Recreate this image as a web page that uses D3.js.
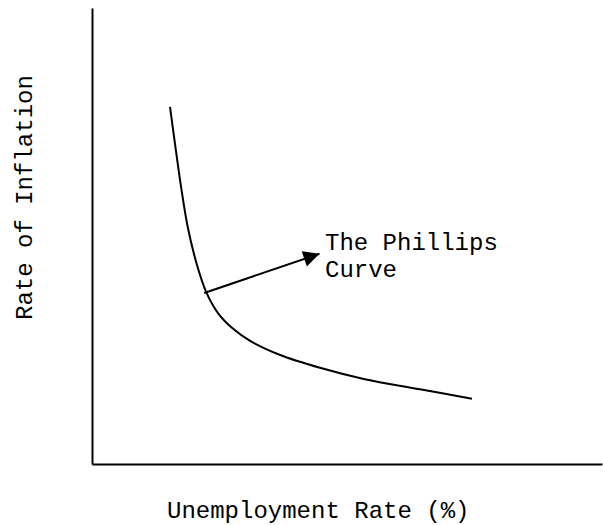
<!DOCTYPE html>
<html>
<head>
<meta charset="utf-8">
<script src="https://cdn.jsdelivr.net/npm/d3@7"></script>
<style>
  body { margin: 0; background: #fff; }
  text { font-family: "Liberation Mono", "Courier New", monospace; font-size: 24px; fill: #000; }
</style>
</head>
<body>
<div id="chart"></div>
<script>
// Phillips curve (units 0-100 on both axes)
var curveX = [15.3, 16.3, 17.5, 18.8, 20.6, 22.4, 24.7, 27.5, 31.0, 36.9, 44.7, 53.5, 64.3, 74.5];
var curveY = [78.3, 70.0, 60.5, 51.8, 43.6, 37.7, 33.1, 29.8, 27.0, 23.9, 21.1, 18.6, 16.4, 14.3];

// arrow from the curve to the label
var arrowX = [22.0, 44.6];
var arrowY = [37.5, 46.1];

var labelLines = ["The Phillips", "Curve"];
var xTitle = "Unemployment Rate (%)";
var yTitle = "Rate of Inflation";

var W = 603, H = 525;

var svg = d3.select("#chart").append("svg")
    .attr("width", W)
    .attr("height", H);

var x = d3.scaleLinear().domain([0, 100]).range([92, 602]);
var y = d3.scaleLinear().domain([0, 100]).range([464, 8]);

//Ejes sin marcas
svg.append("g")
    .attr("transform", "translate(" + x(0) + ",0)")
    .call(d3.axisLeft(y).tickValues([]).tickSizeOuter(0))
    .select(".domain").attr("stroke", "#000").attr("stroke-width", 2);

svg.append("g")
    .attr("transform", "translate(0," + y(0) + ")")
    .call(d3.axisBottom(x).tickValues([]).tickSizeOuter(0))
    .select(".domain").attr("stroke", "#000").attr("stroke-width", 2);

var pts = curveX.map(function(d, i) { return [d, curveY[i]]; });

var line = d3.line()
    .x(function(d) { return x(d[0]); })
    .y(function(d) { return y(d[1]); })
    .curve(d3.curveCatmullRom.alpha(0.5));

svg.append("path")
    .datum(pts)
    .attr("d", line)
    .attr("fill", "none")
    .attr("stroke", "#000")
    .attr("stroke-width", 2);

//Flecha
svg.append("defs").append("marker")
    .attr("id", "head")
    .attr("viewBox", "0 0 10 10")
    .attr("refX", 10)
    .attr("refY", 5)
    .attr("markerWidth", 10)
    .attr("markerHeight", 8)
    .attr("markerUnits", "strokeWidth")
    .attr("orient", "auto")
  .append("path")
    .attr("d", "M0,0L10,5L0,10Z")
    .attr("fill", "#000");

svg.append("line")
    .attr("x1", x(arrowX[0]))
    .attr("y1", y(arrowY[0]))
    .attr("x2", x(arrowX[1]))
    .attr("y2", y(arrowY[1]))
    .attr("stroke", "#000")
    .attr("stroke-width", 2)
    .attr("marker-end", "url(#head)");

svg.selectAll(".lbl")
    .data(labelLines)
    .enter()
    .append("text")
    .attr("class", "lbl")
    .attr("x", 325)
    .attr("y", function(d, i) { return 250 + i * 27; })
    .text(function(d) { return d; });

svg.append("text")
    .attr("x", 167)
    .attr("y", 518)
    .text(xTitle);

svg.append("text")
    .attr("transform", "translate(32,320) rotate(-90)")
    .text(yTitle);
</script>
</body>
</html>
